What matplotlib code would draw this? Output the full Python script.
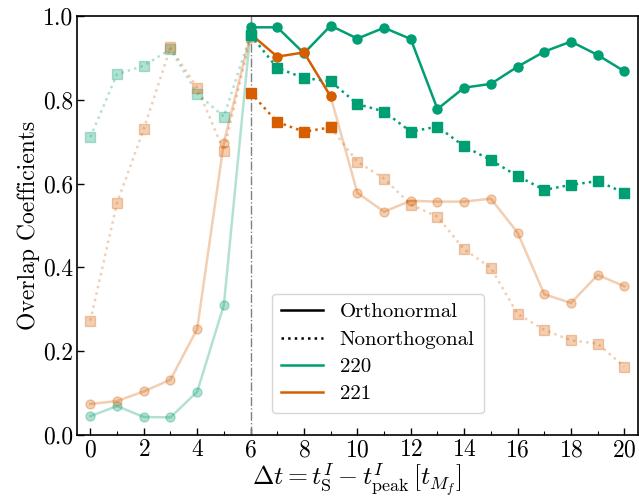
import matplotlib
matplotlib.use("Agg")
import matplotlib.pyplot as plt
from matplotlib.lines import Line2D

plt.rcParams['font.family'] = 'serif'
plt.rcParams['font.serif'] = ['cmr10', 'DejaVu Serif']
plt.rcParams['mathtext.fontset'] = 'cm'
plt.rcParams['axes.formatter.use_mathtext'] = True
plt.rcParams['axes.unicode_minus'] = False

TEAL = '#009e73'
ORANGE = '#d55e00'

x_pre = [0, 1, 2, 3, 4, 5, 6]
t_orth_pre = [0.045, 0.069, 0.043, 0.042, 0.103, 0.310, 0.965]
t_non_pre = [0.711, 0.861, 0.881, 0.921, 0.815, 0.760, 0.955]
o_orth_pre = [0.074, 0.081, 0.104, 0.132, 0.253, 0.698, 0.955]
o_non_pre = [0.273, 0.554, 0.730, 0.925, 0.829, 0.678, 0.950]

x_t = list(range(6, 21))
t_orth = [0.973, 0.973, 0.911, 0.977, 0.946, 0.972, 0.945, 0.778, 0.829,
          0.838, 0.879, 0.915, 0.939, 0.907, 0.868]
t_non = [0.955, 0.876, 0.852, 0.844, 0.790, 0.772, 0.724, 0.736, 0.689,
         0.656, 0.618, 0.585, 0.597, 0.606, 0.578]

x_o = [6, 7, 8, 9]
o_orth = [0.957, 0.903, 0.913, 0.808]
o_non = [0.817, 0.747, 0.724, 0.734]

x_post = list(range(9, 21))
o_orth_post = [0.808, 0.578, 0.533, 0.559, 0.557, 0.557, 0.564, 0.483,
               0.336, 0.315, 0.382, 0.355]
o_non_post = [0.734, 0.652, 0.612, 0.550, 0.521, 0.443, 0.399, 0.289,
              0.251, 0.226, 0.218, 0.163]

fig = plt.figure(figsize=(6.39, 5.0), dpi=100)
ax = fig.add_axes([0.1205, 0.13, 0.8775, 0.838])

ms = 6.5
lw = 1.8
fa = 0.3

# faded pre-peak curves
ax.plot(x_pre, t_orth_pre, '-', marker='o', color=TEAL, alpha=fa, lw=lw, ms=ms)
ax.plot(x_pre, o_orth_pre, '-', marker='o', color=ORANGE, alpha=fa, lw=lw, ms=ms)
ax.plot(x_pre, t_non_pre, ':', marker='s', color=TEAL, alpha=fa, lw=lw, ms=ms)
ax.plot(x_pre, o_non_pre, ':', marker='s', color=ORANGE, alpha=fa, lw=lw, ms=ms)
# faded post curves for 221
ax.plot(x_post, o_orth_post, '-', marker='o', color=ORANGE, alpha=fa, lw=lw, ms=ms)
ax.plot(x_post, o_non_post, ':', marker='s', color=ORANGE, alpha=fa, lw=lw, ms=ms)

ax.axvline(6, color='gray', ls='-.', lw=1.0)

# highlighted curves
ax.plot(x_t, t_orth, '-', marker='o', color=TEAL, lw=lw, ms=ms)
ax.plot(x_o, o_orth, '-', marker='o', color=ORANGE, lw=lw, ms=ms)
ax.plot(x_t, t_non, ':', marker='s', color=TEAL, lw=lw, ms=ms)
ax.plot(x_o, o_non, ':', marker='s', color=ORANGE, lw=lw, ms=ms)

ax.set_xlim(-0.5, 20.5)
ax.set_ylim(0.0, 1.0)
ax.set_xticks(range(0, 21, 2))
ax.set_xticks(range(1, 21, 2), minor=True)
ax.set_yticks([0.0, 0.2, 0.4, 0.6, 0.8, 1.0])
ax.set_yticklabels(['0.0', '0.2', '0.4', '0.6', '0.8', '1.0'])
ax.tick_params(direction='in', labelsize=17, length=5, width=1, pad=3)
ax.tick_params(which='minor', direction='in', length=3, width=0.8)
for s in ax.spines.values():
    s.set_linewidth(1.2)

ax.set_xlabel(r'$\Delta t = t^I_{\rm S} - t^I_{\rm peak}\,[t_{M_f}]$', fontsize=18.5, labelpad=0)
ax.set_ylabel('Overlap Coefficients', fontsize=17, labelpad=2)

handles = [
    Line2D([], [], color='black', ls='-', lw=lw),
    Line2D([], [], color='black', ls=':', lw=lw),
    Line2D([], [], color=TEAL, ls='-', lw=lw),
    Line2D([], [], color=ORANGE, ls='-', lw=lw),
]
labels = ['Orthonormal', 'Nonorthogonal', '220', '221']
ax.legend(handles, labels, loc='lower left', bbox_to_anchor=(0.329, 0.028),
          fontsize=15, frameon=True, handlelength=2.0, borderpad=0.45,
          labelspacing=0.42)

fig.savefig('out.png', dpi=100)
